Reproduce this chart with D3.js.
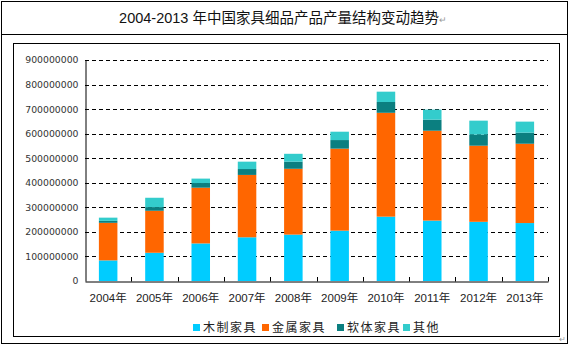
<!DOCTYPE html>
<html>
<head>
<meta charset="utf-8">
<script src="https://cdn.jsdelivr.net/npm/d3@7"></script>
<style>
  body { margin: 0; background: #fff; }
  svg { display: block; }
</style>
</head>
<body>
<div id="chart"></div>
<script>
// data (units: pieces)
var years = ['2004年', '2005年', '2006年', '2007年', '2008年', '2009年', '2010年', '2011年', '2012年', '2013年'];
var seriesNames = ['木制家具', '金属家具', '软体家具', '其他'];
var wood = [84, 115, 153, 178, 189, 205, 262, 246, 241, 236];
var metal = [153, 171, 227, 254, 268, 334, 423, 366, 310, 323];
var soft = [8, 15, 19, 24, 29, 35, 44, 45, 45, 45];
var other = [13, 38, 18, 30, 32, 34, 42, 41, 57, 45];
var yTicks = [0, 100000000, 200000000, 300000000, 400000000, 500000000, 600000000, 700000000, 800000000, 900000000];
var colors = ['#00ccff', '#ff6600', '#0b7f80', '#33cccc'];

var W = 570, H = 346;
var plot = { left: 85, right: 548, top: 60, bottom: 281 };

var svg = d3.select('#chart')
  .append('svg')
  .attr('width', W)
  .attr('height', H);

// table frame
svg.append('rect')
  .attr('x', 1.5).attr('y', 1.5)
  .attr('width', 566).attr('height', 342)
  .attr('fill', 'none').attr('stroke', '#000');
svg.append('line')
  .attr('x1', 1.5).attr('x2', 567.5)
  .attr('y1', 34.5).attr('y2', 34.5)
  .attr('stroke', '#000');

// title
var title = svg.append('text')
  .attr('x', 283).attr('y', 23)
  .attr('text-anchor', 'middle')
  .style('font-family', '"Liberation Sans", "Noto Sans CJK SC", sans-serif')
  .style('font-size', '14.5px')
  .attr('fill', '#111');
title.append('tspan').text('2004-2013 ');
title.append('tspan').style('font-family', '"Noto Sans CJK SC", sans-serif').text('年中国家具细品产品产量结构变动趋势');
title.append('tspan').attr('fill', '#999').style('font-size', '9px').text('↵');

// chart border
svg.append('rect')
  .attr('x', 13.5).attr('y', 43.5)
  .attr('width', 546).attr('height', 293)
  .attr('fill', 'none').attr('stroke', '#000');

// paragraph mark at the corner
svg.append('text')
  .attr('x', 559).attr('y', 342)
  .attr('fill', '#999')
  .style('font-size', '8px')
  .text('↵');

// build stack
var table = years.map(function (y, i) {
  return { year: y, wood: wood[i] * 1e6, metal: metal[i] * 1e6, soft: soft[i] * 1e6, other: other[i] * 1e6 };
});
var keys = ['wood', 'metal', 'soft', 'other'];
var stacked = d3.stack().keys(keys)(table);

var x = d3.scaleBand()
  .domain(years)
  .range([plot.left, plot.right])
  .paddingInner(0.6)
  .paddingOuter(0.3);

var xBounds = d3.scaleLinear()
  .domain([0, years.length])
  .range([plot.left, plot.right]);

var y = d3.scaleLinear()
  .domain([0, 900000000])
  .range([plot.bottom, plot.top]);

// gridlines
svg.append('g')
  .selectAll('line')
  .data(yTicks.slice(1))
  .enter()
  .append('line')
  .attr('x1', plot.left).attr('x2', plot.right)
  .attr('y1', function (d) { return Math.round(y(d)) + 0.5; })
  .attr('y2', function (d) { return Math.round(y(d)) + 0.5; })
  .attr('stroke', '#000')
  .attr('stroke-dasharray', '4,3');

// bars
svg.append('g')
  .selectAll('g')
  .data(stacked)
  .enter()
  .append('g')
  .attr('fill', function (d, i) { return colors[i]; })
  .selectAll('rect')
  .data(function (d) { return d; })
  .enter()
  .append('rect')
  .attr('x', function (d) { return x(d.data.year); })
  .attr('width', x.bandwidth())
  .attr('y', function (d) { return y(d[1]); })
  .attr('height', function (d) { return y(d[0]) - y(d[1]); });

// y axis
var axisY = d3.axisLeft(y)
  .tickValues(yTicks)
  .tickSize(0)
  .tickPadding(7)
  .tickFormat(function (d) { return String(d); });
var gy = svg.append('g')
  .attr('transform', 'translate(' + (plot.left + 0.5) + ',0)')
  .call(axisY);
gy.select('.domain').attr('stroke', '#000');
gy.selectAll('text')
  .style('font-family', '"DejaVu Sans", Verdana, sans-serif')
  .style('font-size', '9.3px')
  .attr('fill', '#333');

// x axis
var axisX = d3.axisBottom(x)
  .tickSize(0)
  .tickPadding(12);
var gx = svg.append('g')
  .attr('transform', 'translate(0,' + (plot.bottom + 0.5) + ')')
  .call(axisX);
gx.select('.domain').attr('stroke', '#000');
gx.selectAll('text')
  .style('font-family', '"Liberation Sans", "Noto Sans CJK SC", sans-serif')
  .style('font-size', '11.5px')
  .attr('fill', '#222');

// category boundary ticks (pointing up)
svg.append('g')
  .selectAll('line')
  .data(d3.range(1, years.length + 1))
  .enter()
  .append('line')
  .attr('x1', function (d) { return Math.round(xBounds(d)) + 0.5; })
  .attr('x2', function (d) { return Math.round(xBounds(d)) + 0.5; })
  .attr('y1', plot.bottom + 0.5)
  .attr('y2', plot.bottom - 4)
  .attr('stroke', '#000');

// legend
var legendX = [193, 262, 337, 403];
var legend = svg.append('g')
  .selectAll('g')
  .data(seriesNames)
  .enter()
  .append('g')
  .attr('transform', function (d, i) { return 'translate(' + legendX[i] + ',328)'; });
legend.append('rect')
  .attr('x', 0).attr('y', -4)
  .attr('width', 7).attr('height', 7)
  .attr('fill', function (d, i) { return colors[i]; });
legend.append('text')
  .attr('x', 10).attr('y', 4)
  .style('font-family', '"Noto Sans CJK SC", sans-serif')
  .style('font-size', '12px')
  .style('letter-spacing', '1.5px')
  .attr('fill', '#222')
  .text(function (d) { return d; });
</script>
</body>
</html>
